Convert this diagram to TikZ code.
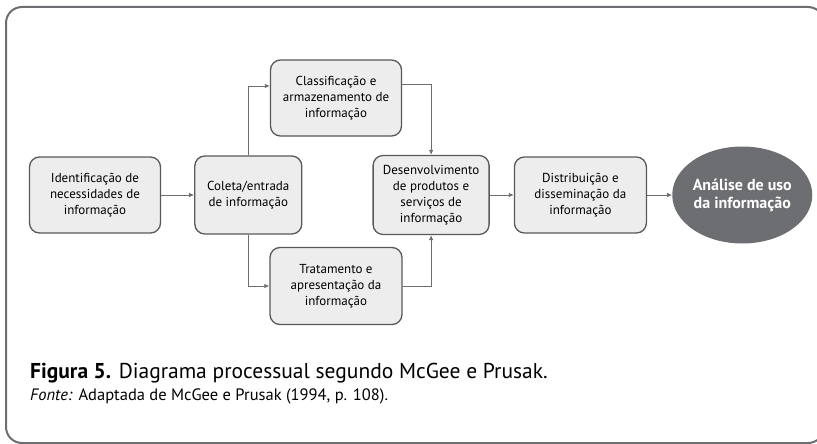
\documentclass[tikz,border=0pt]{standalone}
\usepackage{fontspec}
\setmainfont{PT Sans}
\usetikzlibrary{positioning,shapes.geometric,arrows.meta}

\definecolor{boxfill}{HTML}{EDEDED}
\definecolor{boxline}{HTML}{58595B}
\definecolor{darkgray}{HTML}{6D6E71}

\begin{document}
\begin{tikzpicture}[
                x=1pt, y=-1pt,
                procbox/.style={rectangle, rounded corners=10pt, draw=boxline, line width=1.3pt,
                  fill=boxfill, align=center, inner sep=0pt, minimum height=76pt,
                  font=\fontsize{13}{16}\selectfont},
                endnode/.style={ellipse, fill=darkgray, text=white, align=center, inner sep=0pt,
                  minimum width=130pt, minimum height=97pt,
                  font=\fontsize{16}{18}\selectfont\bfseries},
                flow/.style={draw=darkgray, line width=0.8pt, -{Latex[length=5pt,width=4.5pt]}},
                node distance=33pt
                ]
                \useasboundingbox (0,0) rectangle (817,444);
                \clip (0,0) rectangle (817,444);
                % Outer frame
                \draw[darkgray, line width=2pt, rounded corners=16pt] (6,7) rectangle (824,443);

                % Define the nodes
                \node (ident) [procbox, minimum width=131pt] at (95,195)
                  {Identificação de\\necessidades de\\informação};
                \node (coleta) [procbox, minimum width=107pt, minimum height=78pt, right=33pt of ident]
                  {Coleta/entrada\\de informação};
                \node (desenv) [procbox, minimum width=116pt, minimum height=79pt, right=70pt of coleta]
                  {Desenvolvimento\\de produtos e\\serviços de\\informação};
                \node (distrib) [procbox, minimum width=132pt, right=24pt of desenv]
                  {Distribuição e\\disseminação da\\informação};
                \node (analise) [endnode, right=25pt of distrib]
                  {Análise de uso\\da informação};
                \node (classif) [procbox, minimum width=131pt] at (336,98)
                  {Classificação e\\armazenamento de\\informação};
                \node (trat) [procbox, minimum width=132pt, minimum height=77pt] at (336,286)
                  {Tratamento e\\apresentação da\\informação};

                % Draw the arrows
                \draw[flow] (ident) -- (coleta);
                \draw[flow] (coleta) |- ([yshift=12pt]classif.west);
                \draw[flow] ([yshift=14pt]classif.east) -| (desenv.north);
                \draw[flow] (coleta) |- (trat);
                \draw[flow] (trat) -| (desenv);
                \draw[flow] (desenv) -- (distrib);
                \draw[flow] (distrib) -- (analise);

                % Caption
                \node (caption) [anchor=base west, inner sep=0pt, font=\fontsize{21.5}{24}\selectfont] at (30,378)
                  {\textbf{Figura 5.} Diagrama processual segundo McGee e Prusak.};
                \node (source) [anchor=base west, inner sep=0pt, font=\fontsize{16.5}{18}\selectfont] at (30,400)
                  {\textit{Fonte:} Adaptada de McGee e Prusak (1994, p. 108).};
            \end{tikzpicture}
\end{document}
